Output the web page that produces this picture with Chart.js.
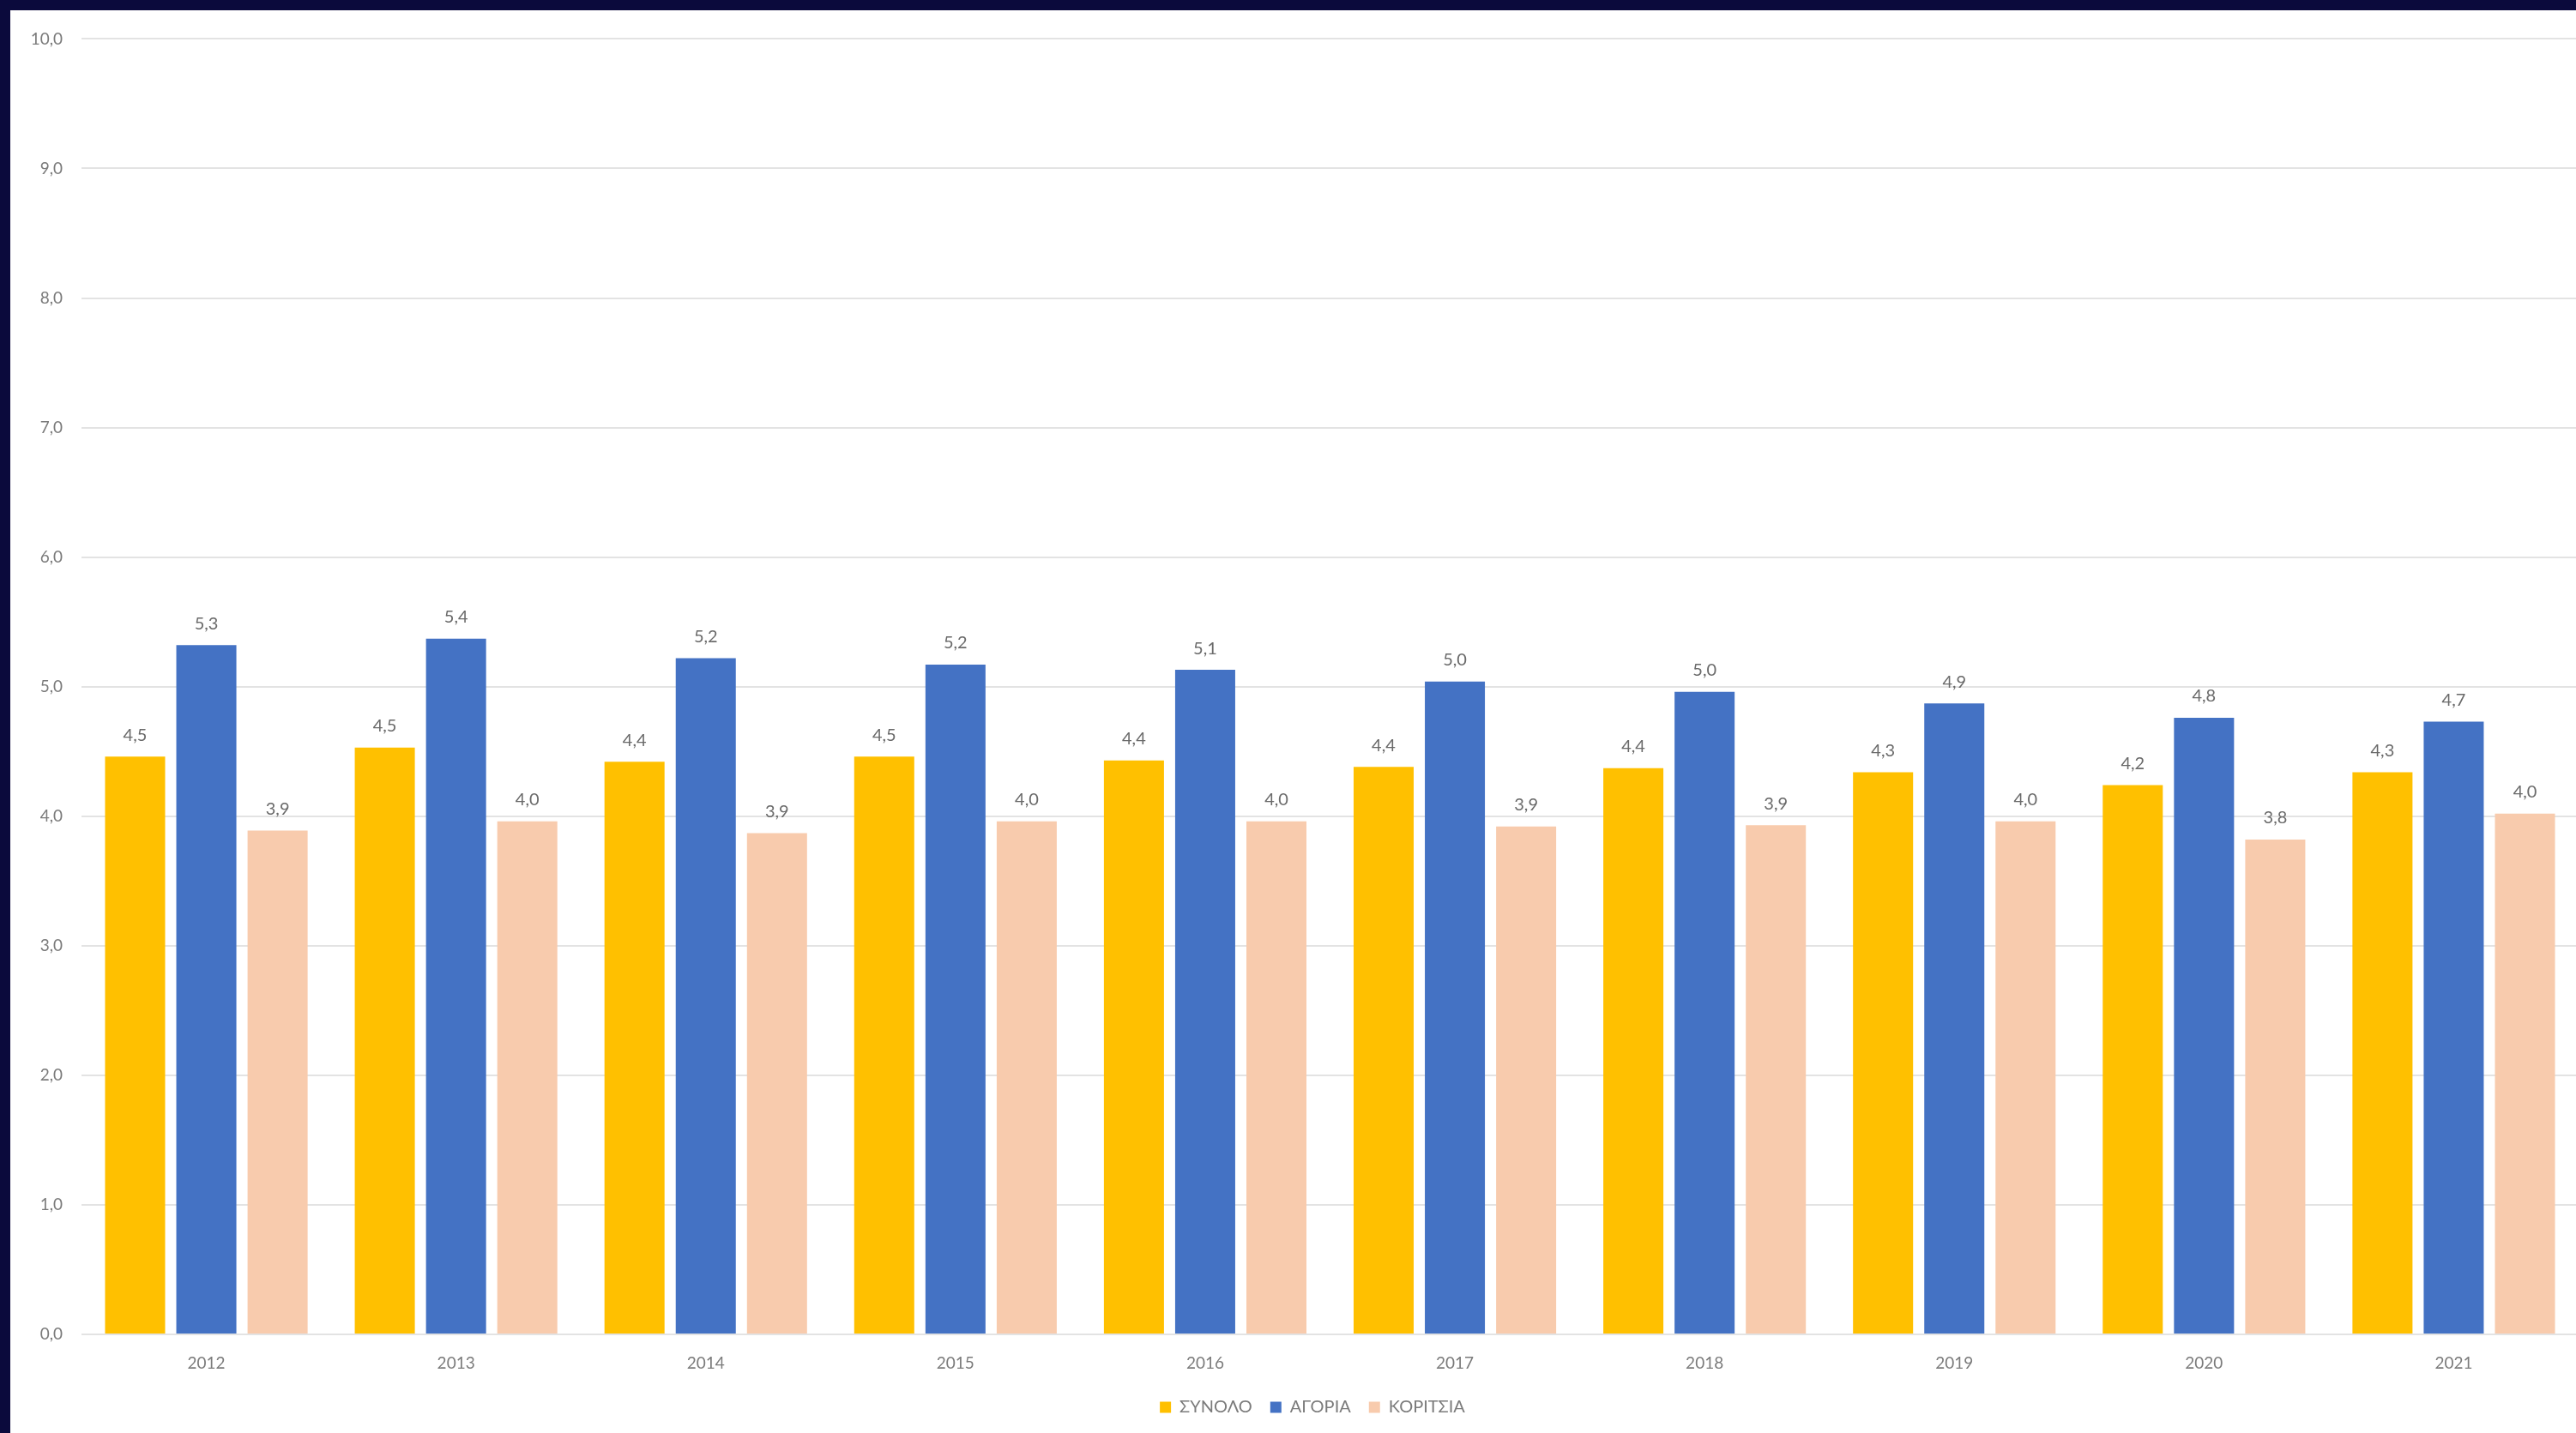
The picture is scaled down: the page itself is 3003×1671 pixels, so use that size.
<!DOCTYPE html>
<html>
<head>
<meta charset="utf-8">
<script src="https://cdn.jsdelivr.net/npm/chart.js@4.4.1/dist/chart.umd.min.js"></script>
<style>
  html,body{margin:0;padding:0;background:#0b0a3c;overflow:hidden;width:3003px;height:1671px;}
  #wrap{position:absolute;left:12px;top:12px;width:2994px;height:1659px;background:#fff;}
</style>
</head>
<body>
<div id="wrap"><canvas id="chart" width="2994" height="1659"></canvas></div>
<script>
const years = ['2012','2013','2014','2015','2016','2017','2018','2019','2020','2021'];
const synolo   = [4.46, 4.53, 4.42, 4.46, 4.43, 4.38, 4.37, 4.34, 4.24, 4.34];
const agoria   = [5.32, 5.37, 5.22, 5.17, 5.13, 5.04, 4.96, 4.87, 4.76, 4.73];
const koritsia = [3.89, 3.96, 3.87, 3.96, 3.96, 3.92, 3.93, 3.96, 3.82, 4.02];
const seriesNames = ['ΣΥΝΟΛΟ','ΑΓΟΡΙΑ','ΚΟΡΙΤΣΙΑ'];
const yTicks = [0,1,2,3,4,5,6,7,8,9,10];

const fmt = v => v.toFixed(1).replace('.', ',');
const FONT = 'Lato, "Open Sans", sans-serif';
const TXT = '#7b7b7b';

// draws the value above every bar
const barLabels = {
  id:'barLabels',
  afterDatasetsDraw(chart){
    const ctx = chart.ctx;
    ctx.save();
    ctx.font = '20px ' + FONT;
    ctx.fillStyle = '#6a6a6a';
    ctx.textAlign = 'center';
    ctx.textBaseline = 'middle';
    chart.data.datasets.forEach((ds,i)=>{
      chart.getDatasetMeta(i).data.forEach((bar,j)=>{
        ctx.fillText(fmt(ds.data[j]), bar.x, bar.y - 25);
      });
    });
    ctx.restore();
  }
};

// legend sits a bit right of the canvas middle in the original
const legendShift = {
  id:'legendShift',
  afterLayout(chart){
    if(chart.legend){ chart.legend.left += 21; chart.legend.right += 21; }
  }
};

new Chart(document.getElementById('chart'),{
  type:'bar',
  data:{
    labels:years,
    datasets:[
      {label:seriesNames[0], data:synolo, backgroundColor:'#ffc000'},
      {label:seriesNames[1], data:agoria, backgroundColor:'#4472c4'},
      {label:seriesNames[2], data:koritsia, backgroundColor:'#f8cbad'}
    ]
  },
  options:{
    responsive:false,
    animation:false,
    categoryPercentage:0.856,
    barPercentage:0.843,
    layout:{padding:{top:30,right:0,bottom:10,left:0}},
    plugins:{
      tooltip:{enabled:false},
      legend:{
        position:'bottom',
        labels:{color:TXT, font:{family:FONT,size:20}, boxWidth:13, boxHeight:13, padding:21}
      }
    },
    scales:{
      x:{
        grid:{display:false, drawTicks:false},
        border:{display:false},
        ticks:{color:TXT, font:{family:FONT,size:19}, padding:22},
        afterFit:s=>{ s.height = 54; }
      },
      y:{
        min:0, max:10,
        afterBuildTicks:s=>{ s.ticks = yTicks.map(v=>({value:v})); },
        grid:{color:'#e3e3e3', lineWidth:2, drawTicks:false},
        border:{display:false},
        ticks:{color:TXT, font:{family:FONT,size:19}, padding:22, callback:v=>fmt(v)},
        afterFit:s=>{ s.width = 83; }
      }
    }
  },
  plugins:[barLabels, legendShift]
});
</script>
</body>
</html>
